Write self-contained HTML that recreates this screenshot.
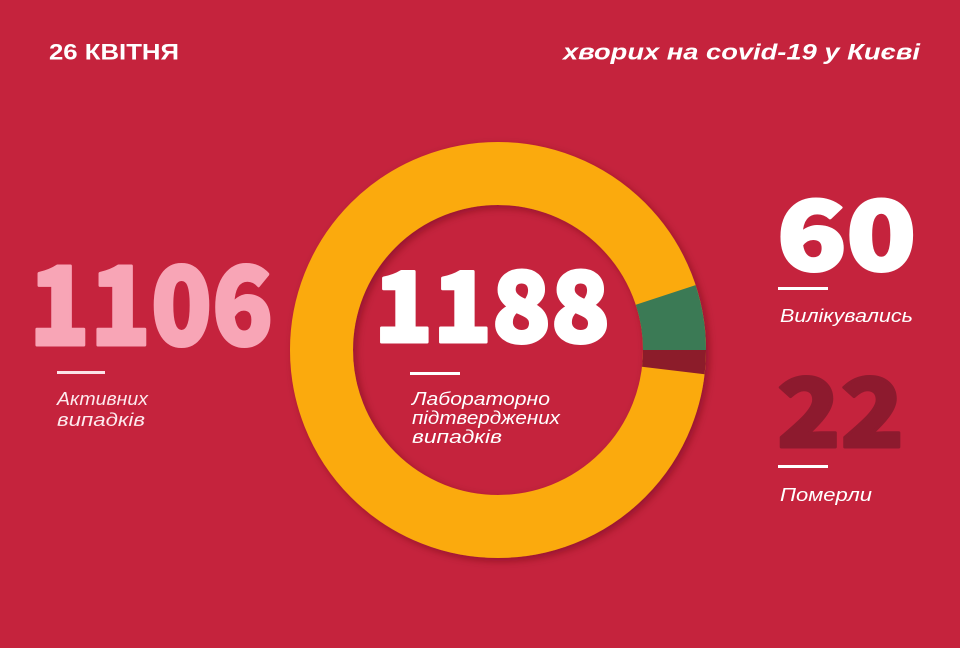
<!DOCTYPE html>
<html>
<head>
<meta charset="utf-8">
<style>
html,body{margin:0;padding:0;background:#c5233d;}
body{width:960px;height:648px;overflow:hidden;}
svg{display:block;}
.b{font-family:"Liberation Sans","DejaVu Sans",sans-serif;font-weight:bold;}
.bi{font-family:"Liberation Sans","DejaVu Sans",sans-serif;font-weight:bold;font-style:italic;}
.i{font-family:"Liberation Sans","DejaVu Sans",sans-serif;font-weight:normal;font-style:italic;}
.n{font-family:"Noto Sans CJK JP",sans-serif;font-weight:900;}
</style>
</head>
<body>
<svg width="960" height="648" viewBox="0 0 960 648" xmlns="http://www.w3.org/2000/svg">
  <defs>
    <filter id="sh" x="-20%" y="-20%" width="140%" height="140%">
      <feDropShadow dx="3" dy="3" stdDeviation="4" flood-color="#5a0012" flood-opacity="0.45"/>
    </filter>
  </defs>
  <rect x="0" y="0" width="960" height="648" fill="#c5233d"/>

  <!-- header -->
  <text class="b" x="49" y="59.5" font-size="22" fill="#ffffff" textLength="130" lengthAdjust="spacingAndGlyphs">26 КВІТНЯ</text>
  <text class="bi" x="563" y="59.5" font-size="22" fill="#ffffff" textLength="357" lengthAdjust="spacingAndGlyphs">хворих на covid-19 у Києві</text>

  <!-- donut -->
  <g filter="url(#sh)">
    <circle cx="498" cy="350" r="176.5" fill="none" stroke="#fbaa10" stroke-width="63"/>
    <path d="M706,350 L643,350 A145,145 0 0 0 635.8,304.8 L695.6,285.1 A208,208 0 0 1 706,350 Z" fill="#3b7a55"/>
    <path d="M706,350 L643,350 A145,145 0 0 1 642,366.8 L704.6,374.2 A208,208 0 0 0 706,350 Z" fill="#8c1a2c"/>
  </g>

  <!-- 1106 -->
  <text class="n" x="29" y="345" font-size="109" fill="#f8a5b6" stroke="#f8a5b6" stroke-width="3" stroke-linejoin="round" textLength="244" lengthAdjust="spacingAndGlyphs">1106</text>
  <rect x="57" y="371" width="48" height="3" fill="#fbe3e8"/>
  <text class="i" x="57" y="405" font-size="18" fill="#fde9ed" textLength="91" lengthAdjust="spacingAndGlyphs">Активних</text>
  <text class="i" x="57" y="426" font-size="18" fill="#fde9ed" textLength="88" lengthAdjust="spacingAndGlyphs">випадків</text>

  <!-- 1188 -->
  <text class="n" x="374" y="342" font-size="97" fill="#ffffff" stroke="#ffffff" stroke-width="3" stroke-linejoin="round" textLength="236" lengthAdjust="spacingAndGlyphs">1188</text>
  <rect x="410" y="372" width="50" height="3" fill="#ffffff"/>
  <text class="i" x="412" y="405" font-size="18" fill="#ffffff" textLength="138" lengthAdjust="spacingAndGlyphs">Лабораторно</text>
  <text class="i" x="412" y="424" font-size="18" fill="#ffffff" textLength="148" lengthAdjust="spacingAndGlyphs">підтверджених</text>
  <text class="i" x="412" y="443" font-size="18" fill="#ffffff" textLength="90" lengthAdjust="spacingAndGlyphs">випадків</text>

  <!-- 60 -->
  <text class="n" x="777" y="270" font-size="96" fill="#ffffff" stroke="#ffffff" stroke-width="3" stroke-linejoin="round" textLength="139" lengthAdjust="spacingAndGlyphs">60</text>
  <rect x="778" y="287" width="50" height="3" fill="#ffffff"/>
  <text class="i" x="780" y="322" font-size="18" fill="#ffffff" textLength="133" lengthAdjust="spacingAndGlyphs">Вилікувались</text>

  <!-- 22 -->
  <text class="n" x="777" y="447" font-size="95" fill="#8d1a2e" stroke="#8d1a2e" stroke-width="3" stroke-linejoin="round" textLength="127" lengthAdjust="spacingAndGlyphs">22</text>
  <rect x="778" y="465" width="50" height="3" fill="#ffffff"/>
  <text class="i" x="780" y="501" font-size="18" fill="#ffffff" textLength="92" lengthAdjust="spacingAndGlyphs">Померли</text>
</svg>
</body>
</html>
